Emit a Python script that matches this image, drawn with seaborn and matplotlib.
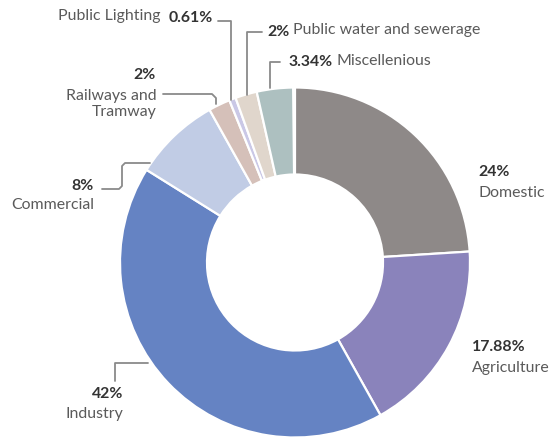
import matplotlib
matplotlib.use("Agg")
import matplotlib.pyplot as plt
import seaborn as sns

# data, clockwise from the top
sectors = ["Domestic", "Agriculture", "Industry", "Commercial",
           "Railways and\nTramway", "Public Lighting",
           "Public water and sewerage", "Miscellenious"]
shares = [24, 17.88, 42, 8, 2, 0.61, 2, 3.34]
share_labels = ["24%", "17.88%", "42%", "8%", "2%", "0.61%", "2%", "3.34%"]
colors = ["#8e8988", "#8a83bb", "#6583c3", "#c1cce5",
          "#d5c0b9", "#cac8e6", "#e0d6cc", "#adc0c0"]

W, H = 550, 437

sns.set_theme(style="white")
plt.rcParams["font.family"] = ["Lato", "DejaVu Sans"]

fig = plt.figure(figsize=(5.5, 4.37), dpi=100)
ax = fig.add_axes([0, 0, 1, 1])


def px(x, y):
    # pixel position (from top-left) -> axes data coords
    return x, H - y


# shares sum a bit under 100, keep the small gap at the top
fracs = [s / 100 for s in shares]
ax.pie(fracs, colors=colors, startangle=90, counterclock=False,
       normalize=False, center=px(295, 262.5), radius=175,
       wedgeprops=dict(width=87, edgecolor="white", linewidth=1.6))

ax.set_xlim(0, W)
ax.set_ylim(0, H)
ax.set_aspect("equal")
ax.axis("off")

# leader lines (layout, in pixels)
leaders = [
    [(218, 21), (231, 21), (231, 100)],
    [(262, 32), (247, 32), (247, 95)],
    [(280, 62), (270, 62), (270, 88)],
    [(163, 94), (212, 94), (216, 98), (216, 104)],
    [(102, 189), (119, 189), (122, 186), (122, 166), (125, 163), (150, 163)],
    [(148, 363), (115, 363), (115, 381)],
]
for pts in leaders:
    xs, ys = zip(*[px(x, y) for x, y in pts])
    ax.plot(xs, ys, color="#8a8a8a", lw=1.3, solid_joinstyle="round",
            solid_capstyle="round")

num_kw = dict(fontsize=11.4, fontweight="bold", color="#333333", va="center")
lab_kw = dict(fontsize=11.4, color="#5a5a5a", va="center")

# Domestic
ax.text(*px(478, 172), share_labels[0], ha="left", **num_kw)
ax.text(*px(478, 193), sectors[0], ha="left", **lab_kw)
# Agriculture
ax.text(*px(472, 347), share_labels[1], ha="left", **num_kw)
ax.text(*px(472, 368), sectors[1], ha="left", **lab_kw)
# Industry
ax.text(*px(123, 394), share_labels[2], ha="right", **num_kw)
ax.text(*px(123, 414), sectors[2], ha="right", **lab_kw)
# Commercial
ax.text(*px(94, 186), share_labels[3], ha="right", **num_kw)
ax.text(*px(94, 205), sectors[3], ha="right", **lab_kw)
# Railways
ax.text(*px(156, 75), share_labels[4], ha="right", **num_kw)
ax.text(*px(157, 104), sectors[4], ha="right", linespacing=1.25, **lab_kw)
# Public Lighting
ax.text(*px(160, 16), sectors[5], ha="right", **lab_kw)
ax.text(*px(169, 18), share_labels[5], ha="left", **num_kw)
# Public water
ax.text(*px(267, 32), share_labels[6], ha="left", **num_kw)
ax.text(*px(293, 30), sectors[6], ha="left", **lab_kw)
# Miscellenious
ax.text(*px(289, 62), share_labels[7], ha="left", **num_kw)
ax.text(*px(337, 61), sectors[7], ha="left", **lab_kw)

fig.savefig("out.png", dpi=100)
